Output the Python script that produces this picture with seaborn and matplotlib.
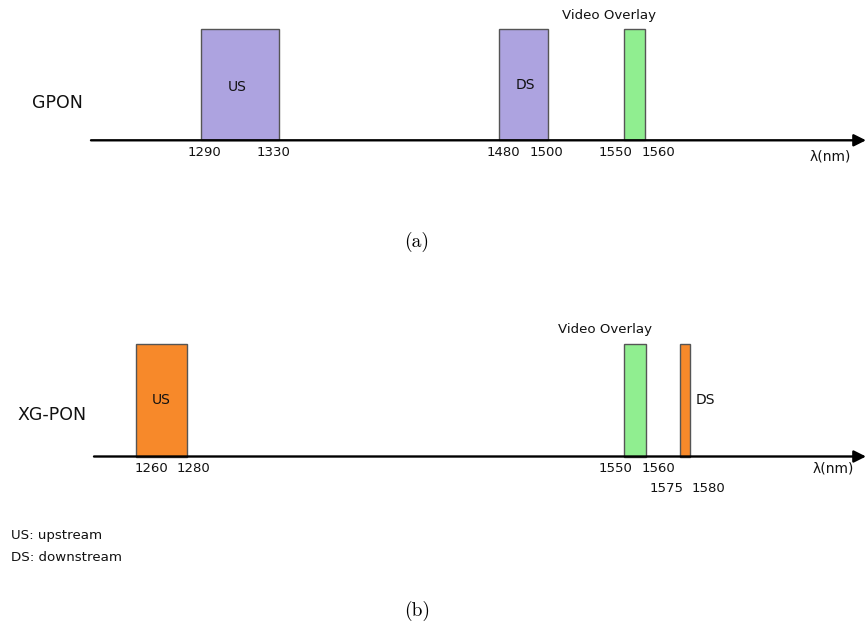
import numpy as np
import matplotlib
matplotlib.use("Agg")
import matplotlib.pyplot as plt
import seaborn as sns

# ---------------- data ----------------
gpon_bands = ["US", "DS", "Video Overlay"]
gpon_start = [1290, 1480, 1550]
gpon_end = [1330, 1500, 1560]
gpon_colors = ["#ADA3E0", "#ADA3E0", "#90EE90"]
gpon_ticks = [1290, 1330, 1480, 1500, 1550, 1560]

xg_bands = ["US", "Video Overlay", "DS"]
xg_start = [1260, 1550, 1575]
xg_end = [1280, 1560, 1580]
xg_colors = ["#F7892A", "#90EE90", "#F7892A"]
xg_ticks = [1260, 1280, 1550, 1560, 1575, 1580]

# ---------------- style ----------------
sns.set_theme(style="white")
plt.rcParams["font.family"] = ["DejaVu Sans"]
TXT = "#111111"

W, H = 866, 625
fig = plt.figure(figsize=(W / 100, H / 100), dpi=100)


def fx(px):
    return px / W


def fy(py):
    return 1 - py / H


def make_axis(top_px, bot_px, axis_px, bar_top_px, nm_anch, px_anch):
    ax = fig.add_axes([0, fy(bot_px), 1, (bot_px - top_px) / H])
    nm_anch = np.asarray(nm_anch, float)
    px_anch = np.asarray(px_anch, float)
    fwd = lambda v: np.interp(v, nm_anch, px_anch)
    inv = lambda v: np.interp(v, px_anch, nm_anch)
    ax.set_xscale("function", functions=(fwd, inv))
    ax.set_xlim(inv(0), inv(W))
    unit = axis_px - bar_top_px
    ax.set_ylim((axis_px - bot_px) / unit, (axis_px - top_px) / unit)
    ax.axis("off")
    return ax


def draw_panel(ax, starts, ends, colors, names, ticks, tick_off, axis_start_px,
               name_pos):
    ax.bar(starts, [1.0] * len(starts), width=np.array(ends) - np.array(starts),
           align="edge", color=colors, edgecolor="#555555", linewidth=1.0,
           zorder=2)
    ax.annotate("", xy=(1.0, 0), xycoords=("axes fraction", "data"),
                xytext=(axis_start_px / W, 0),
                textcoords=("axes fraction", "data"),
                arrowprops=dict(arrowstyle="-|>", lw=1.7, color="black",
                                mutation_scale=18, shrinkA=0, shrinkB=0),
                zorder=3)
    for t, (dx, dy) in zip(ticks, tick_off):
        ax.annotate(str(t), xy=(t, 0), xytext=(dx, dy),
                    textcoords="offset pixels", ha="center", va="center",
                    fontsize=9.5, color=TXT)
    for s, e, n, (mode, dx, dy) in zip(starts, ends, names, name_pos):
        if mode == "in":
            ax.annotate(n, xy=((s + e) / 2, 0.5), xytext=(dx, dy),
                        textcoords="offset pixels", ha="center", va="center",
                        fontsize=10, color=TXT)
        elif mode == "right":
            ax.annotate(n, xy=(e, 0.5), xytext=(dx, dy),
                        textcoords="offset pixels", ha="left", va="center",
                        fontsize=10, color=TXT)
        else:  # above
            ax.annotate(n, xy=((s + e) / 2, 1.0), xytext=(dx, dy),
                        textcoords="offset pixels", ha="center", va="center",
                        fontsize=9.6, color=TXT)


# ---- panel (a) ----
ax_a = make_axis(0, 312, 140.3, 29.0,
                 [1200, 1290, 1330, 1480, 1500, 1550, 1560, 1700],
                 [0, 200.5, 278.5, 499, 548, 623.5, 645, 866])
draw_panel(ax_a, gpon_start, gpon_end, gpon_colors, gpon_bands, gpon_ticks,
           [(4, -12), (-5.5, -12), (4, -12), (-2, -12), (-7.5, -12), (13, -12)],
           91, [("in", -2, -2.5), ("in", 2, 0), ("above", -25, 13)])

# ---- panel (b) ----
ax_b = make_axis(312, 625, 456.5, 344.0,
                 [1200, 1260, 1280, 1550, 1560, 1575, 1580, 1700],
                 [0, 136, 187, 624, 646, 680, 690, 866])
draw_panel(ax_b, xg_start, xg_end, xg_colors, xg_bands, xg_ticks,
           [(15, -12.5), (6.5, -12.5), (-8, -12.5), (12, -12.5), (-13, -32),
            (18, -32)],
           94, [("in", 0, 0), ("above", -30, 14), ("right", 6, 0)])

# ---- free text ----
fig.text(fx(57), fy(102.5), "GPON", fontsize=12.5, ha="center", va="center",
         color=TXT)
fig.text(fx(52), fy(414.5), "XG-PON", fontsize=12.5, ha="center", va="center",
         color=TXT)
fig.text(fx(830), fy(156), "λ(nm)", fontsize=10, ha="center", va="center",
         color=TXT)
fig.text(fx(833), fy(468), "λ(nm)", fontsize=10, ha="center", va="center",
         color=TXT)
fig.text(fx(11), fy(535), "US: upstream", fontsize=9.6, ha="left",
         va="center", color=TXT)
fig.text(fx(11), fy(557.5), "DS: downstream", fontsize=9.6, ha="left",
         va="center", color=TXT)
fig.text(fx(417), fy(241.5), "(a)", fontsize=14, ha="center", va="center",
         family="cmr10", color="black")
fig.text(fx(417), fy(611), "(b)", fontsize=14, ha="center", va="center",
         family="cmr10", color="black")

fig.savefig("out.png", dpi=100)
